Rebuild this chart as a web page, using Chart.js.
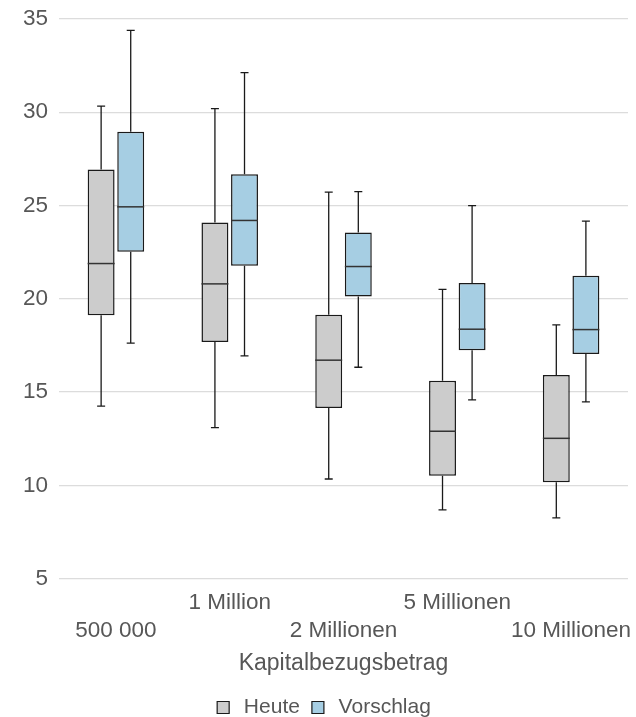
<!DOCTYPE html>
<html>
<head>
<meta charset="utf-8">
<script src="https://cdn.jsdelivr.net/npm/chart.js@4/dist/chart.umd.min.js"></script>
<style>
    html, body { margin: 0; padding: 0; background: #fff; }
    #wrap { width: 636px; height: 717px; }
</style>
</head>
<body>
<div id="wrap"><canvas id="chartBox"></canvas></div>
<script>
/**
 * Categories (staggered in two rows)
 */
const categories = [
    ['', '500 000'],
    ['1 Million', ''],
    ['', '2 Millionen'],
    ['5 Millionen', ''],
    ['', '10 Millionen']
];

/**
 * Heute
 */
const heuteMin = [14.25, 13.09, 10.34, 8.68, 8.26];
const heuteQ1 = [19.12, 17.69, 14.15, 10.52, 10.16];
const heuteMedian = [21.89, 20.80, 16.71, 12.90, 12.52];
const heuteQ3 = [26.93, 24.09, 19.14, 15.60, 15.92];
const heuteMax = [30.33, 30.19, 25.72, 20.50, 18.60];

/**
 * Vorschlag
 */
const vorschlagMin = [17.62, 16.94, 16.33, 14.58, 14.47];
const vorschlagQ1 = [22.52, 21.77, 20.12, 17.24, 17.04];
const vorschlagMedian = [24.93, 24.20, 21.73, 18.37, 18.35];
const vorschlagQ3 = [28.95, 26.68, 23.55, 20.85, 21.23];
const vorschlagMax = [34.39, 32.12, 25.75, 25.00, 24.16];

/**
 * Y ticks
 */
const yTicks = [5, 10, 15, 20, 25, 30, 35];

const textColor = '#575757';
const lineColor = '#1a1a1a';
const fontFamily = '"Liberation Sans", Arial, sans-serif';

/**
 * Whiskers and medians
 */
const boxPlugin = {
    id: 'boxWhiskers',
    afterDatasetsDraw(chart) {
        const ctx = chart.ctx;
        const y = chart.scales.y;
        chart.data.datasets.forEach((ds, i) => {
            const meta = chart.getDatasetMeta(i);
            meta.data.forEach((bar, j) => {
                const x = bar.x;
                const half = bar.width / 2;
                const cap = 4;
                const yMin = y.getPixelForValue(ds.whiskerMin[j]);
                const yMax = y.getPixelForValue(ds.whiskerMax[j]);
                const yQ1 = y.getPixelForValue(ds.data[j][0]);
                const yQ3 = y.getPixelForValue(ds.data[j][1]);
                const yMed = y.getPixelForValue(ds.median[j]);

                ctx.save();
                ctx.strokeStyle = lineColor;
                ctx.lineWidth = 1.3;
                ctx.beginPath();
                ctx.moveTo(x, yQ3);
                ctx.lineTo(x, yMax);
                ctx.moveTo(x - cap, yMax);
                ctx.lineTo(x + cap, yMax);
                ctx.moveTo(x, yQ1);
                ctx.lineTo(x, yMin);
                ctx.moveTo(x - cap, yMin);
                ctx.lineTo(x + cap, yMin);
                ctx.stroke();

                ctx.lineWidth = 1.5;
                ctx.strokeStyle = '#333';
                ctx.beginPath();
                ctx.moveTo(x - half, yMed);
                ctx.lineTo(x + half, yMed);
                ctx.stroke();
                ctx.restore();
            });
        });
    }
};

new Chart(document.getElementById('chartBox'), {
    type: 'bar',
    data: {
        labels: categories,
        datasets: [
            {
                label: 'Heute',
                backgroundColor: '#cccccc',
                borderColor: lineColor,
                borderWidth: 1.5,
                borderSkipped: false,
                data: heuteQ1.map((v, i) => [v, heuteQ3[i]]),
                median: heuteMedian,
                whiskerMin: heuteMin,
                whiskerMax: heuteMax
            },
            {
                label: 'Vorschlag',
                backgroundColor: '#a6cee3',
                borderColor: lineColor,
                borderWidth: 1.5,
                borderSkipped: false,
                data: vorschlagQ1.map((v, i) => [v, vorschlagQ3[i]]),
                median: vorschlagMedian,
                whiskerMin: vorschlagMin,
                whiskerMax: vorschlagMax
            }
        ]
    },
    options: {
        responsive: true,
        maintainAspectRatio: false,
        animation: false,
        categoryPercentage: 0.52,
        barPercentage: 0.91,
        layout: { padding: { top: 0, right: 0, left: 12, bottom: -11 } },
        plugins: {
            tooltip: { enabled: false },
            legend: {
                position: 'bottom',
                labels: {
                    color: textColor,
                    font: { family: fontFamily, size: 21 },
                    boxWidth: 12,
                    boxHeight: 12,
                    padding: 12,
                    generateLabels(chart) {
                        return Chart.defaults.plugins.legend.labels.generateLabels(chart).map(item => {
                            item.text = '\u2009' + item.text;
                            item.lineWidth = 1.2;
                            return item;
                        });
                    }
                }
            }
        },
        scales: {
            x: {
                afterFit(axis) {
                    axis.paddingLeft = 0;
                    axis.paddingRight = 8;
                },
                grid: { display: false, drawTicks: false },
                border: { display: false },
                ticks: {
                    color: textColor,
                    font: { family: fontFamily, size: 22.5, lineHeight: 1.24 },
                    padding: 10,
                    maxRotation: 0,
                    autoSkip: false
                },
                title: {
                    display: true,
                    text: 'Kapitalbezugsbetrag',
                    color: textColor,
                    font: { family: fontFamily, size: 23 },
                    padding: { top: -5, bottom: 8 }
                }
            },
            y: {
                min: 5,
                max: 35,
                afterBuildTicks(axis) {
                    axis.ticks = yTicks.map(v => ({ value: v }));
                },
                afterFit(axis) {
                    axis.paddingTop = 19;
                },
                grid: { color: '#dcdcdc', lineWidth: 1.2, drawTicks: false },
                border: { display: false },
                ticks: {
                    color: textColor,
                    font: { family: fontFamily, size: 22.5 },
                    padding: 11
                }
            }
        }
    },
    plugins: [boxPlugin]
});
</script>
</body>
</html>
